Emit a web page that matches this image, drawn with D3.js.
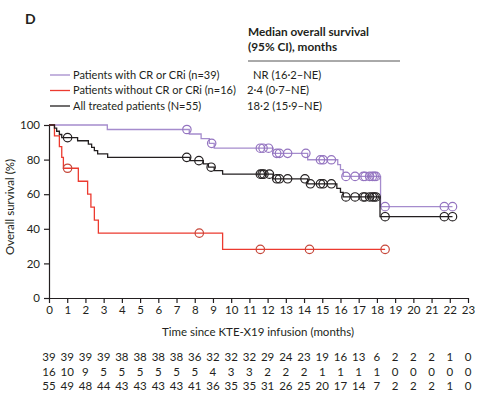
<!DOCTYPE html>
<html>
<head>
<meta charset="utf-8">
<script src="https://cdn.jsdelivr.net/npm/d3@7"></script>
<style>
  body { margin: 0; background: #fff; }
  svg text { font-family: Lato, "Open Sans", sans-serif; fill: #231f20; }
</style>
</head>
<body>
<svg id="km" width="477" height="393"></svg>
<script>
// survival curves: step times (months) and survival (%) after each step
const crTimes = [0, 3.2, 7.7, 8.35, 8.8, 9.07, 12.3, 14.2, 15.85, 16.0, 16.15, 18.2];
const crSurv = [100, 97.4, 94.8, 92.1, 89.4, 86.6, 83.6, 79.9, 77.1, 74.2, 70.3, 52.8];
const crCensor = [7.57, 8.93, 11.6, 11.75, 12.05, 12.5, 12.65, 13.1, 14.1, 14.9, 15.05, 15.5,
  16.3, 16.8, 17.25, 17.35, 17.6, 17.75, 17.85, 17.95, 18.45, 21.7, 22.15];
const crEnd = 22.15;

const noCrTimes = [0, 0.3, 0.57, 0.7, 0.79, 1.61, 2.12, 2.3, 2.49, 2.71, 9.53];
const noCrSurv = [100, 93.75, 87.5, 81.25, 75, 67.5, 60, 52.5, 45, 37.5, 28.1];
const noCrCensor = [1.02, 8.25, 11.6, 14.3, 18.45];
const noCrEnd = 18.45;

const allTimes = [0, 0.3, 0.42, 0.57, 0.7, 1.57, 2.16, 2.34, 2.49, 2.67, 3.22, 7.74, 8.47, 8.75,
  9.07, 9.53, 12.3, 14.2, 15.8, 16.0, 16.15, 18.17];
const allSurv = [100, 98.2, 96.4, 94.5, 92.7, 90.9, 89.0, 87.1, 85.2, 83.3, 81.3, 79.4, 77.5, 75.6,
  73.6, 71.6, 68.9, 66.0, 63.4, 61.0, 58.4, 47.0];
const allCensor = [1.02, 7.56, 8.23, 8.9, 11.6, 11.7, 11.8, 12.1, 12.5, 12.65, 13.1, 14.05, 14.35,
  14.9, 15.05, 15.5, 16.3, 16.8, 17.25, 17.35, 17.6, 17.75, 17.85, 17.95, 18.45, 21.7, 22.15];
const allEnd = 22.15;

// legend + medians
const legendLabels = ["Patients with CR or CRi (n=39)", "Patients without CR or CRi (n=16)", "All treated patients (N=55)"];
const medianLabels = ["NR (16·2–NE)", "2·4 (0·7–NE)", "18·2 (15·9–NE)"];

// number at risk, months 0..23
const riskCr = [39, 39, 39, 39, 38, 38, 38, 38, 36, 32, 32, 32, 29, 24, 23, 19, 16, 13, 6, 2, 2, 2, 1, 0];
const riskNoCr = [16, 10, 9, 5, 5, 5, 5, 5, 5, 4, 3, 3, 2, 2, 2, 1, 1, 1, 1, 0, 0, 0, 0, 0];
const riskAll = [55, 49, 48, 44, 43, 43, 43, 43, 41, 36, 35, 35, 31, 26, 25, 20, 17, 14, 7, 2, 2, 2, 1, 0];

const xTicks = d3.range(0, 24);
const yTicks = [0, 20, 40, 60, 80, 100];

const svg = d3.select("#km");

const x = d3.scaleLinear().domain([0, 23]).range([49, 468]);
const y = d3.scaleLinear().domain([0, 100]).range([298, 125]);

const groups = [
  { times: crTimes, surv: crSurv, censor: crCensor, end: crEnd, line: "#a58ccd", mark: "#9474c0" },
  { times: noCrTimes, surv: noCrSurv, censor: noCrCensor, end: noCrEnd, line: "#ec3a2f", mark: "#c6473a" },
  { times: allTimes, surv: allSurv, censor: allCensor, end: allEnd, line: "#231f20", mark: "#231f20" },
];

// panel letter
svg.append("text").attr("x", 25).attr("y", 24)
  .style("font-weight", "bold").style("font-size", "14px").text("D");

// header of median column
svg.append("text").attr("x", 248).attr("y", 36)
  .style("font-weight", "bold").style("font-size", "11.8px").text("Median overall survival");
svg.append("text").attr("x", 248).attr("y", 51)
  .style("font-weight", "bold").style("font-size", "11.8px").text("(95% CI), months");
svg.append("line").attr("x1", 248).attr("x2", 400).attr("y1", 61).attr("y2", 61)
  .attr("stroke", "#555").attr("stroke-width", 1);

// legend
const legY = [75, 90.5, 106];
const medX = [253, 247, 247];
groups.forEach((g, i) => {
  svg.append("line").attr("x1", 50).attr("x2", 70).attr("y1", legY[i]).attr("y2", legY[i])
    .attr("stroke", g.line).attr("stroke-width", 1.3);
  svg.append("text").attr("x", 73).attr("y", legY[i]).attr("dy", "0.35em")
    .style("font-size", "11px").text(legendLabels[i]);
  svg.append("text").attr("x", medX[i]).attr("y", legY[i]).attr("dy", "0.35em")
    .style("font-size", "11.2px").text(medianLabels[i]);
});

// axes
const yAxis = svg.append("g").attr("transform", "translate(49,0)")
  .call(d3.axisLeft(y).tickValues(yTicks).tickSize(5).tickSizeOuter(0).tickPadding(4));
const xAxis = svg.append("g").attr("transform", "translate(0,298)")
  .call(d3.axisBottom(x).tickValues(xTicks).tickSize(5).tickSizeOuter(0).tickPadding(3));
[yAxis, xAxis].forEach((a) => {
  a.selectAll("path, line").attr("stroke", "#231f20").attr("stroke-width", 1.2);
  a.selectAll("text").style("font-size", "11.5px").attr("fill", "#231f20")
    .style("font-family", "Lato, sans-serif");
});
xAxis.select(".domain").attr("d", "M44,0.5H468");

svg.append("text").attr("x", 258).attr("y", 332).attr("dy", "0.35em")
  .attr("text-anchor", "middle").style("font-size", "11.5px")
  .text("Time since KTE-X19 infusion (months)");
svg.append("text").attr("transform", "translate(10,207) rotate(-90)")
  .attr("text-anchor", "middle").attr("dy", "0.35em").style("font-size", "11.5px")
  .text("Overall survival (%)");

// curves
const step = d3.line().x((d) => x(d[0])).y((d) => y(d[1])).curve(d3.curveStepAfter);
function survAt(g, t) {
  const i = d3.bisectRight(g.times, t) - 1;
  return g.surv[Math.max(0, i)];
}
groups.forEach((g) => {
  const pts = g.times.map((t, i) => [t, g.surv[i]]);
  pts.push([g.end, g.surv[g.surv.length - 1]]);
  svg.append("path").datum(pts).attr("d", step)
    .attr("fill", "none").attr("stroke", g.line).attr("stroke-width", 1.3);
  svg.append("g").selectAll("circle").data(g.censor).join("circle")
    .attr("cx", (t) => x(t)).attr("cy", (t) => y(survAt(g, t)))
    .attr("r", 4.2).attr("fill", "none").attr("stroke", g.mark).attr("stroke-width", 1.2);
});

// number at risk table
const riskRows = [riskCr, riskNoCr, riskAll];
const riskY = [357, 371.5, 386];
riskRows.forEach((row, r) => {
  svg.append("g").selectAll("text").data(row).join("text")
    .attr("x", (d, i) => x(xTicks[i])).attr("y", riskY[r]).attr("dy", "0.35em")
    .attr("text-anchor", "middle").style("font-size", "11.5px").text((d) => d);
});
</script>
</body>
</html>
